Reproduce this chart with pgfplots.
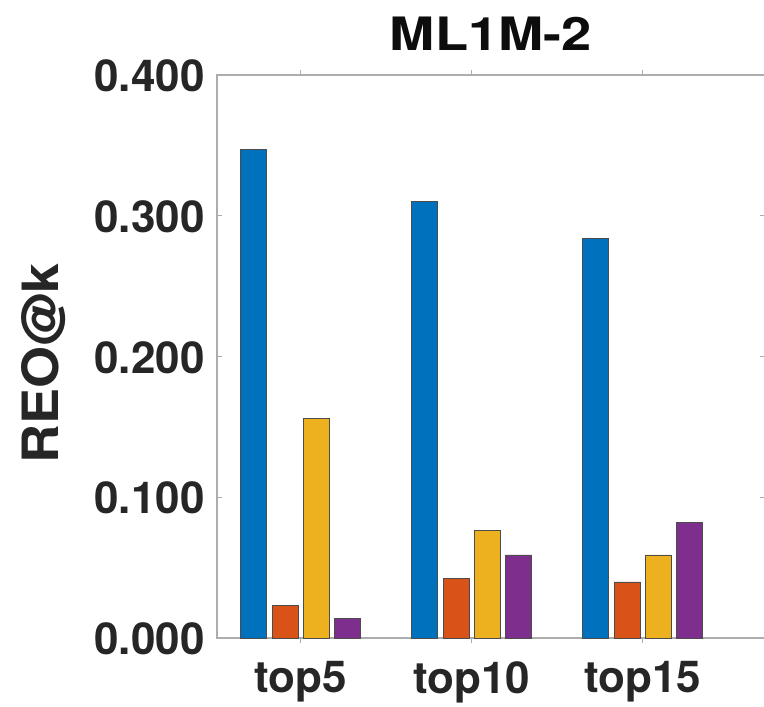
\documentclass[border=0pt]{standalone}
\usepackage{pgfplots}
\pgfplotsset{compat=1.18}
\usepackage{fontspec}
\setmainfont{TeX Gyre Heros}
\definecolor{mb}{HTML}{0072BD}
\definecolor{mo}{HTML}{D95319}
\definecolor{my}{HTML}{EDB120}
\definecolor{mp}{HTML}{7E2F8E}
\definecolor{axg}{gray}{0.68}
\begin{document}
\begin{tikzpicture}
\begin{axis}[
  at={(0,0)}, anchor=south west,
  scale only axis, width=548bp, height=563bp,
  xmin=0.51, xmax=3.715, ymin=0, ymax=0.4,
  xtick={1,2,3}, xticklabels={top5,top10,top15},
  ytick={0,0.1,0.2,0.3,0.4},
  yticklabel style={/pgf/number format/fixed, /pgf/number format/fixed zerofill, /pgf/number format/precision=3, xshift=-9bp, yshift=-1bp},
  /pgf/number format/assume math mode=true,
  tick style={axg, line width=0.8bp},
  major tick length=5bp,
  tick align=inside,
  axis line style={axg, line width=1.2bp},
  ticklabel style={font=\fontsize{44bp}{48bp}\selectfont\bfseries, text=black!85},
  xticklabel style={yshift=-15bp},
  ylabel={\scalebox{1.08}[1]{REO@k}},
  ylabel style={font=\fontsize{50bp}{54bp}\selectfont\bfseries, text=black!85, at={(axis description cs:-0.316,0.488)}, anchor=center},
  title={\scalebox{1.18}[1]{ML1M-2}},
  title style={font=\fontsize{46bp}{50bp}\selectfont\bfseries, text=black!95, yshift=15bp},
  ybar, bar width=26bp,
  every axis plot/.append style={draw=black!70, line width=0.8bp},
]
\addplot[fill=mb, bar shift=-46.95bp] coordinates {(1,0.347) (2,0.310) (3,0.284)};
\addplot[fill=mo, bar shift=-15.65bp] coordinates {(1,0.0234) (2,0.0426) (3,0.0398)};
\addplot[fill=my, bar shift=15.65bp] coordinates {(1,0.156) (2,0.0767) (3,0.059)};
\addplot[fill=mp, bar shift=46.95bp] coordinates {(1,0.0142) (2,0.059) (3,0.0824)};
\end{axis}
\pgfresetboundingbox
\useasboundingbox (-217bp,-69bp) rectangle (547bp,638bp);
\end{tikzpicture}
\end{document}
